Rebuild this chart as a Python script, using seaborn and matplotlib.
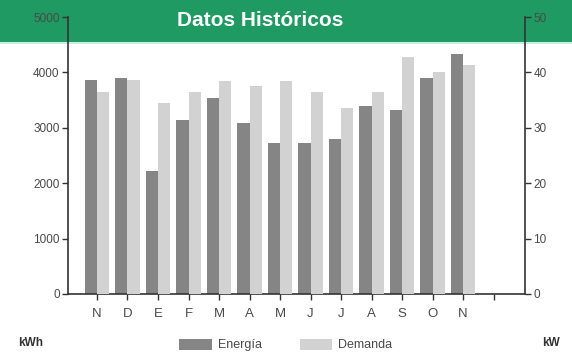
import matplotlib
matplotlib.use("Agg")
import matplotlib.pyplot as plt
from matplotlib.patches import Rectangle, Patch
import pandas as pd
import seaborn as sns

# Monthly history: energy (kWh, left axis) and demand (kW, right axis)
meses = ["N", "D", "E", "F", "M", "A", "M", "J", "J", "A", "S", "O", "N"]
energia = [3860, 3890, 2220, 3135, 3530, 3080, 2720, 2720, 2790, 3390, 3315, 3890, 4340]
demanda = [36.4, 38.7, 34.4, 36.4, 38.4, 37.5, 38.4, 36.4, 33.5, 36.4, 42.7, 40.0, 41.3]
ticks_kwh = [0, 1000, 2000, 3000, 4000, 5000]
ticks_kw = [0, 10, 20, 30, 40, 50]

series = ["Energía", "Demanda"]
colores = {"Energía": "#858585", "Demanda": "#d2d2d2"}
verde = "#1e9a62"
texto = "#4a4a4a"

idx = list(range(len(meses)))
df = pd.concat([
    pd.DataFrame({"mes": idx, "valor": energia, "serie": "Energía"}),
    pd.DataFrame({"mes": idx, "valor": demanda, "serie": "Demanda"}),
], ignore_index=True)

sns.set_style("ticks")
plt.rcParams["font.family"] = ["Liberation Sans", "DejaVu Sans"]

fig = plt.figure(figsize=(5.72, 3.56), dpi=100)
fig.patch.set_facecolor("white")

# Green header band across the top
fig.patches.append(Rectangle((0, 1 - 42 / 356), 1, 42 / 356, transform=fig.transFigure,
                             facecolor=verde, edgecolor="none", zorder=-2))
fig.patches.append(Rectangle((0, 1 - 44 / 356), 1, 2 / 356, transform=fig.transFigure,
                             facecolor="#c9eede", edgecolor="none", zorder=-2))

ax1 = fig.add_axes([68 / 572, 1 - 294 / 356, (525 - 68) / 572, (294 - 17) / 356])
ax1.patch.set_alpha(0)
ax2 = ax1.twinx()
ax2.patch.set_alpha(0)

# Energy on the left scale, demand on the right scale, side by side per month
sns.barplot(data=df[df.serie == "Energía"], x="mes", y="valor", hue="serie",
            hue_order=series, palette=colores, saturation=1, width=0.8, dodge=True,
            linewidth=0, legend=False, ax=ax1)
sns.barplot(data=df[df.serie == "Demanda"], x="mes", y="valor", hue="serie",
            hue_order=series, palette=colores, saturation=1, width=0.8, dodge=True,
            linewidth=0, legend=False, ax=ax2)

ax1.set_xlim(-0.95, 14.03)
ax1.set_xticks(list(range(len(meses) + 1)))
ax1.set_xticklabels(meses + [""])
ax1.set_ylim(0, 5000)
ax1.set_yticks(ticks_kwh)
ax2.set_ylim(0, 50)
ax2.set_yticks(ticks_kw)

for ax in (ax1, ax2):
    ax.set_xlabel("")
    ax.set_ylabel("")
    ax.spines["top"].set_visible(False)
    for s in ("left", "right", "bottom"):
        ax.spines[s].set_color("#333333")
        ax.spines[s].set_linewidth(1.2)
    ax.tick_params(colors="#333333", labelcolor=texto, labelsize=8.5, length=4, width=1, pad=2)
ax1.spines["right"].set_visible(False)
ax2.spines["left"].set_visible(False)
ax2.spines["bottom"].set_visible(False)
ax1.tick_params(axis="x", labelsize=9.5, pad=6)

fig.text(0.455, 1 - 20 / 356, "Datos Históricos", color="white", fontsize=15,
         fontweight="bold", ha="center", va="center")
fig.text(18 / 572, 1 - 343 / 356, "kWh", color="#333333", fontsize=8.5,
         fontweight="bold", ha="left", va="center")
fig.text(560 / 572, 1 - 343 / 356, "kW", color="#333333", fontsize=8.5,
         fontweight="bold", ha="right", va="center")

handles = [Patch(facecolor=colores[s], edgecolor="none", label=s) for s in series]
fig.legend(handles=handles, loc="center", bbox_to_anchor=(0.5, 1 - 345 / 356), ncol=2,
           frameon=False, fontsize=9, handlelength=2.6, handleheight=1.0,
           columnspacing=3.0, handletextpad=0.5, labelcolor=texto)

fig.savefig("out.png", dpi=100)
